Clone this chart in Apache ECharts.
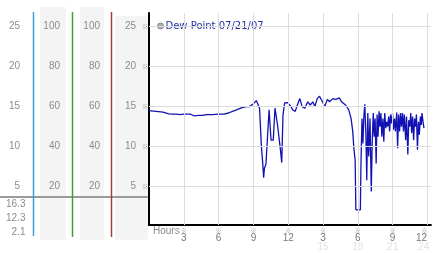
<!DOCTYPE html>
<html><head><meta charset="utf-8">
<script src="https://cdn.jsdelivr.net/npm/echarts@6/dist/echarts.min.js"></script>
<style>html,body{margin:0;padding:0;background:#fff}#c{width:442px;height:253px}</style>
</head><body><div id="c"></div><script>
const hours = [0.0,0.6,1.2,1.7,2.0,2.35,2.5,2.65,3.0,3.6,3.85,4.3,4.65,4.9,5.5,6.0,6.45,6.85,7.2,7.55,7.8,8.1,8.4,8.65,8.95,9.25,9.42,9.53,9.69,9.8,9.88,9.95,10.08,10.2,10.35,10.52,10.71,10.86,11.08,11.33,11.44,11.55,11.69,11.96,12.24,12.38,12.6,12.79,13.0,13.2,13.43,13.68,13.9,14.12,14.3,14.5,14.7,14.95,15.15,15.37,15.56,15.84,16.1,16.4,16.6,16.94,17.22,17.42,17.56,17.66,17.77,17.83,18.22,18.27,18.36,18.44,18.52,18.6,18.7,18.77,18.86,18.94,19.05,19.16,19.24,19.33,19.41,19.49,19.58,19.66,19.74,19.83,19.91,19.99,20.07,20.16,20.24,20.32,20.41,20.49,20.57,20.66,20.74,20.82,20.91,20.99,21.07,21.16,21.24,21.35,21.43,21.51,21.6,21.68,21.76,21.85,21.93,22.01,22.12,22.2,22.31,22.39,22.48,22.56,22.64,22.72,22.81,22.89,22.97,23.05,23.14,23.22,23.3,23.39,23.47,23.53,23.62,23.7];
const dewPoint = [14.5,14.4,14.3,14.1,14.05,14.05,14.25,14.0,14.05,14.05,13.85,13.9,13.9,14.0,14.0,14.05,14.05,14.2,14.4,14.6,14.75,14.9,15.0,15.0,15.3,15.75,15.6,14.8,10.0,8.0,6.1,7.3,7.8,8.0,14.6,10.8,10.8,14.8,12.7,9.6,8.0,14.0,15.45,15.5,15.0,14.6,14.4,15.2,16.0,15.0,14.8,15.6,15.2,15.6,15.0,16.0,16.3,15.6,15.0,15.9,15.6,16.0,15.9,16.1,15.6,15.2,14.6,13.5,11.9,9.8,8.3,2.1,2.1,7.9,13.5,10.4,13.75,15.3,11.25,5.8,14.2,8.75,13.5,4.4,10.6,14.2,11.25,13.5,7.9,14.0,11.25,14.4,12.5,14.2,11.25,13.5,10.6,14.2,12.3,13.1,12.5,13.75,11.9,14.0,12.9,14.2,12.1,13.5,11.9,14.25,9.8,14.0,11.9,14.2,12.5,14.2,11.9,14.0,10.8,13.75,9.0,13.3,12.5,14.2,11.7,13.75,10.8,13.5,12.5,14.0,9.6,13.1,11.5,13.75,12.7,14.2,13.1,12.3];
const tempTicks = [5,10,15,20,25];
const humidityTicks = [20,40,60,80,100];
const hourTicks = [3,6,9,12,15,18,21,24];
const hourLabels = ['3','6','9','12','3','6','9','12'];
const hourLabels24 = ['','','','','15','18','21','24'];
const summaryLabels = ['16.3','12.3','2.1'];
const seriesName = 'Dew Point 07/21/07';

const font = 'Liberation Sans';
const markFont = 'Noto Sans CJK SC';
const labelColor = '#8c8c8c';
const gridColor = '#dcdcdc';
const tempMin = 0.2, tempMax = 26.7;
const humMin = tempMin * 4, humMax = tempMax * 4;

function sideAxis(min, max, ticks, offset, margin) {
  return {
    type: 'value', position: 'left', gridIndex: 0, min: min, max: max, offset: offset,
    axisLine: {show: false}, axisTick: {show: false}, splitLine: {show: false},
    axisLabel: {customValues: ticks, margin: margin, color: labelColor, fontFamily: font, fontSize: 10}
  };
}

const chart = echarts.init(document.getElementById('c'));
const lastIdx = hourTicks.length - 1;
chart.setOption({
  animation: false,
  backgroundColor: '#fff',
  grid: {left: 149, top: 13, right: 0, bottom: 28, containLabel: false},
  legend: {
    left: 152, top: 16, itemWidth: 6, itemHeight: 6, selectedMode: false,
    data: [{name: seriesName, icon: 'circle', itemStyle: {color: '#b0b0b0', borderColor: '#888', borderWidth: 1}}],
    textStyle: {color: '#2232a6', fontFamily: 'DejaVu Sans', fontSize: 10, padding: [0, 0, 0, -3]}
  },
  xAxis: {
    type: 'value', min: 0, max: 24.3, interval: 3,
    axisLine: {show: true, lineStyle: {color: '#000', width: 2}},
    axisTick: {show: false}, splitLine: {show: false},
    axisLabel: {
      margin: 3, showMaxLabel: true, showMinLabel: true,
      formatter: function (v) {
        const i = hourTicks.indexOf(v);
        if (i < 0) return '';
        const s = i === lastIdx ? '2' : '';
        return '{m' + s + '|※}\n{d' + s + '|' + hourLabels[i] + '}\n{f' + s + '|' + (hourLabels24[i] || ' ') + '}';
      },
      rich: {
        m: {fontSize: 6, lineHeight: 6, color: '#999', fontFamily: markFont},
        d: {fontSize: 10, lineHeight: 9, color: '#777', fontFamily: font},
        f: {fontSize: 10, lineHeight: 9, color: '#e2e2e2', fontFamily: font},
        m2: {fontSize: 6, lineHeight: 6, color: '#999', fontFamily: markFont, padding: [0, 6, 0, 0]},
        d2: {fontSize: 10, lineHeight: 9, color: '#777', fontFamily: font, padding: [0, 12, 0, 0]},
        f2: {fontSize: 10, lineHeight: 9, color: '#e2e2e2', fontFamily: font, padding: [0, 8, 0, 0]}
      }
    }
  },
  yAxis: [
    {
      type: 'value', position: 'left', min: tempMin, max: tempMax,
      axisLine: {show: true, lineStyle: {color: '#000', width: 2}},
      axisTick: {show: false}, splitLine: {show: false},
      axisLabel: {
        customValues: tempTicks, margin: 1,
        formatter: function (v) { return '{v|' + v + '}{m|※}'; },
        rich: {
          v: {fontSize: 10, color: labelColor, fontFamily: font},
          m: {fontSize: 6, color: '#999', fontFamily: markFont, padding: [0, 0, 0, 6]}
        }
      }
    },
    sideAxis(tempMin, tempMax, tempTicks, 116, 13),
    sideAxis(humMin, humMax, humidityTicks, 77, 12),
    sideAxis(humMin, humMax, humidityTicks, 38, 11)
  ],
  graphic: [
    {type: 'rect', z: -10, shape: {x: 40, y: 7, width: 26, height: 233}, style: {fill: '#f4f4f4'}},
    {type: 'rect', z: -10, shape: {x: 80, y: 7, width: 24, height: 233}, style: {fill: '#f4f4f4'}},
    {type: 'rect', z: -10, shape: {x: 115, y: 16, width: 33, height: 224}, style: {fill: '#f4f4f4'}},
    {type: 'line', z: -5, shape: {x1: 0, y1: 197, x2: 149, y2: 197}, style: {stroke: '#9a9a9a', lineWidth: 2}},
    {type: 'line', z: -4, shape: {x1: 33.5, y1: 12, x2: 33.5, y2: 236}, style: {stroke: '#3aa0d2', lineWidth: 1.5}},
    {type: 'line', z: -4, shape: {x1: 72.5, y1: 12, x2: 72.5, y2: 237}, style: {stroke: '#3aa03a', lineWidth: 1.5}},
    {type: 'line', z: -4, shape: {x1: 111.5, y1: 12, x2: 111.5, y2: 237}, style: {stroke: '#aa3a3a', lineWidth: 1.5}},
    {type: 'text', left: 153, top: 226, style: {text: 'Hours', fill: labelColor, font: '10px "Liberation Sans"'}},
    {type: 'group', left: 6, top: 199, children: summaryLabels.map(function (t, i) {
      return {type: 'text', style: {text: t, x: 21, y: i * 14.3, align: 'right', fill: labelColor, font: '10px "Liberation Sans"'}};
    })}
  ],
  series: [
    {
      type: 'line', name: 'grid', data: [], z: 1, silent: true,
      markLine: {
        silent: true, symbol: ['none', 'none'], label: {show: false}, animation: false,
        lineStyle: {color: gridColor, type: 'solid', width: 1},
        data: tempTicks.map(function (v) { return {yAxis: v}; }).concat(hourTicks.map(function (h) { return {xAxis: h}; }))
      }
    },
    {
      type: 'line', name: seriesName, z: 3, showSymbol: false, symbol: 'none',
      lineStyle: {color: '#1212b4', width: 1.3}, itemStyle: {color: '#1212b4'},
      data: hours.map(function (h, i) { return [h, dewPoint[i]]; })
    }
  ]
});
</script></body></html>
